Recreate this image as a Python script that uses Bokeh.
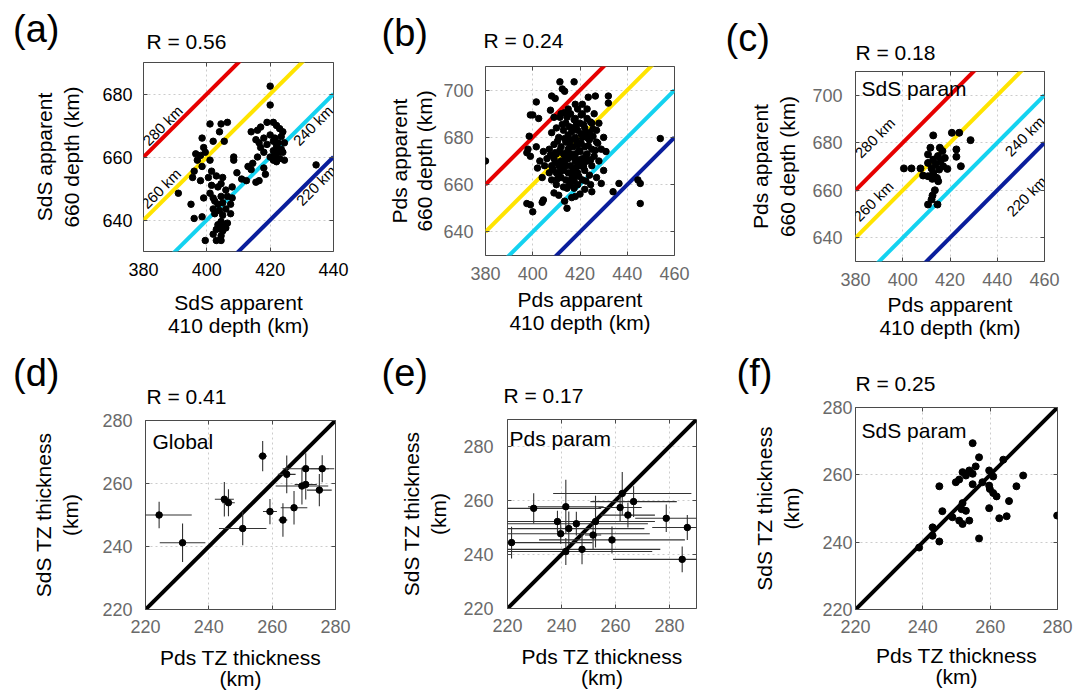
import numpy as np
from bokeh.plotting import figure
from bokeh.models import Range1d, FixedTicker, Label, LinearAxis
from bokeh.layouts import row, column
from bokeh.embed import file_html
from bokeh.resources import INLINE

FONT = "Liberation Sans"

# ---------------- data ----------------
thickness_levels = [280, 260, 240, 220]
thickness_colors = ["#e60000", "#ffe400", "#14d2f0", "#0a1e9c"]

# (a) SdS apparent depths
a_x410 = [420, 420, 434.5, 391, 395,
          419, 421, 422, 417, 416, 414, 423, 424, 420, 418,
          421.5, 423.5, 415.5, 416.5, 421, 422.5, 424.5, 419, 417, 422,
          423.5, 421, 418, 422.5, 424, 421.5, 420, 423, 424.5, 421, 422,
          416, 414.5, 413, 414, 418, 418.5, 416.5, 415.5, 409.5, 411,
          408, 408.5, 408.5, 412.5,
          401, 404.5, 406.5, 404, 402, 405.5, 398.5, 399, 396.5, 398,
          399.5, 401, 397, 401.5, 398.5, 396, 395.5, 398, 400.5, 403,
          405, 401.5, 403.5, 404.5, 406, 401, 399, 402, 404.5, 406.5,
          408, 402.5, 403.5, 405, 407.5, 402, 404, 406, 402.5, 405,
          407.5, 404.5, 403.5, 405.5, 396, 398.5, 403, 405, 406, 402,
          404.5, 403, 404.5, 399.5, 406.5, 404]
a_y660 = [682.5, 676.5, 657.5, 648.5, 645,
          671, 671, 670, 669.5, 668.5, 668, 669, 668, 667, 666,
          666, 666.5, 665.5, 664.5, 665, 664.5, 664.5, 664, 663, 663.5,
          662.5, 662, 661.5, 661.5, 661.5, 660.5, 660, 659.5, 659, 659, 658.5,
          660, 658, 657, 656, 656.5, 654.5, 652.5, 652, 655, 653,
          650.5, 660, 659, 652.5,
          670.5, 670.5, 671, 668, 665, 665, 666, 663, 661, 660.5,
          661.5, 659, 659, 655.5, 657, 655.5, 653.5, 652.5, 653.5, 654,
          653.5, 651, 650.5, 651.5, 649.5, 648.5, 647, 647, 647.5, 647.5,
          647, 646, 645, 645.5, 645, 643.5, 643, 643.5, 642, 641.5,
          642, 639.5, 638.5, 638.5, 640.5, 641, 637, 636.5, 637.5, 635.5,
          635, 633.5, 633.5, 633.5, 639, 637.5]

# (b) Pds apparent depths
b_x410 = [380, 454, 445.5, 445.5, 444.5, 436.5, 434, 429, 425, 424.5,
          432, 432, 426.5, 423.5, 417.5, 411.5, 412.5, 413.5, 408, 409.5,
          401.5, 399, 400, 402.5, 407.5, 409, 398.5, 398, 397.5, 399,
          401.5, 404.5, 407.5, 397.5, 399, 400, 404, 404.5, 409, 411,
          414.5, 413.5, 416.5,
          405, 406, 407, 407, 408, 408, 409, 409, 410, 410,
          410, 411, 411, 412, 412, 412, 413, 413, 413, 413,
          414, 414, 414, 414, 415, 415, 415, 415, 416, 416,
          416, 416, 416, 417, 417, 417, 417, 418, 418, 418,
          418, 419, 419, 419, 419, 419, 420, 420, 420, 421,
          421, 421, 421, 422, 422, 422, 423, 423, 423, 424,
          424, 424, 425, 425, 425, 426, 426, 427, 427, 428,
          428, 429, 430, 431, 430, 427, 404, 403, 402, 418,
          415, 421, 423, 412, 410, 408, 420, 418, 422,
          408.5, 409.5, 410.5, 411.5, 412.5, 413.5, 414.5, 415.5, 416.5, 417.5,
          418.5, 419.5, 420.5, 421.5, 422.5, 423.5, 424.5, 425.5, 426.5, 427.5,
          409.5, 411.5, 413.5, 415.5, 417.5, 419.5, 421.5, 423.5, 425.5, 410.5,
          412.5, 414.5, 416.5, 418.5, 420.5, 422.5, 424.5, 411.5, 413.5, 415.5,
          417.5, 419.5, 421.5, 414.5, 416.5, 418.5, 420.5, 413.5, 417.5, 422.5]
b_y660 = [670, 679.5, 652, 660.5, 662, 660.5, 657, 660.5, 657, 660,
          697.5, 694.5, 697.5, 697, 703.5, 703.5, 700.5, 699.5, 697.5, 696.5,
          695, 689.5, 689.5, 688, 691.5, 688.5, 680.5, 675, 673.5, 672,
          676, 674, 672.5, 652, 651.5, 648.5, 652.5, 653.5, 656.5, 655.5,
          650, 653, 654.5,
          668, 671, 665, 675, 668, 662, 671, 677, 665, 660,
          673, 668, 680, 663, 670, 676, 659, 666, 673, 683,
          668, 662, 678, 686, 665, 671, 675, 681, 660, 668,
          673, 679, 690, 663, 666, 676, 684, 670, 673, 680,
          688, 660, 665, 677, 683, 692, 668, 674, 686, 662,
          671, 680, 690, 666, 676, 684, 670, 688, 673, 664,
          679, 682, 668, 686, 675, 672, 690, 678, 683, 670,
          686, 675, 680, 674, 666, 663, 663, 670, 667, 694,
          692, 694, 692, 690, 684, 682, 656, 655, 658,
          666.5, 669.5, 662.5, 674.5, 667.5, 670.5, 673.5, 677.5, 664.5, 671.5,
          678.5, 670.5, 681.5, 667.5, 672.5, 676.5, 670.5, 680.5, 674.5, 677.5,
          673.5, 665.5, 679.5, 684.5, 687.5, 674.5, 685.5, 679.5, 683.5, 678.5,
          685.5, 688.5, 682.5, 685.5, 689.5, 681.5, 686.5, 688.5, 690.5, 660.5,
          661.5, 663.5, 668.5, 658.5, 662.5, 667.5, 677.5, 669.5, 658.5, 661.5]

# (c) Pds apparent depths, SdS parameters
c_x410 = [412.9, 420.8, 423.9, 428.7, 411.7, 415.7, 416.8, 422.7, 410.7, 414.9,
          417.8, 422.7, 412.9, 416.0, 410.7, 413.9, 417.1, 424.6, 400.5, 403.7,
          407.5, 412.2, 415.4, 418.9, 412.9, 408.6, 410.7, 414.5, 412.5, 415.0,
          413.6, 412.6, 412.2, 410.7, 414.7]
c_y660 = [683.1, 684.2, 684.2, 681.1, 677.9, 677.9, 676.5, 677.2, 675.1, 674.4,
          673.6, 674.1, 672.9, 672.2, 671.5, 670.8, 670.1, 670.1, 669.2, 669.2,
          669.2, 669.2, 668.7, 669.0, 667.3, 666.2, 665.9, 665.2, 664.8, 663.8,
          660.0, 657.8, 656.1, 654.0, 654.0]

# (d) Global TZ thickness
d_pds = [224.3, 231.7, 244.9, 246.2, 250.7, 257.0, 259.3, 263.4, 264.6, 266.9, 270.6, 269.4, 270.6, 275.8, 274.9]
d_sds = [250.0, 241.2, 255.0, 253.9, 245.7, 268.7, 251.1, 248.4, 262.9, 252.3, 264.7, 259.2, 259.7, 264.7, 257.9]
d_pds_err = [10.3, 7.2, 3.0, 2.0, 7.5, 1.3, 2.2, 1.4, 2.8, 4.2, 7.3, 8.3, 3.5, 3.8, 3.9]
d_sds_err = [4.2, 6.1, 5.5, 4.3, 5.3, 4.8, 4.0, 5.3, 6.0, 5.3, 4.9, 5.9, 4.8, 4.3, 5.1]

# (e) Pds param TZ thickness
e_pds = [221.5, 229.7, 238.5, 239.7, 241.6, 242.7, 241.6, 245.5, 247.6, 252.6,
         251.7, 258.7, 261.7, 262.5, 264.6, 266.7, 278.8, 286.6, 284.7]
e_sds = [244.4, 257.1, 252.2, 247.7, 257.7, 249.6, 241.1, 251.4, 241.9, 252.2,
         247.2, 245.4, 257.4, 262.6, 254.6, 259.6, 253.4, 250.0, 238.2]
e_pds_err = [30, 25, 22, 33, 14, 28, 32, 26.5, 29, 22, 3, 27, 8, 25.6, 10, 16, 11.5, 13, 25.6]
e_sds_err = [5.9, 5.6, 4.0, 3.7, 10, 6.3, 5.0, 4.4, 5.5, 9.6, 5.3, 5.0, 5.0, 8.0, 4.6, 5.7, 5.1, 4.6, 4.8]

# (f) SdS param TZ thickness
f_pds = [254.8, 256.7, 263.9, 255.7, 251.8, 252.8, 253.8, 254.8, 250.8, 249.8,
         254.8, 244.9, 259.7, 260.9, 257.7, 259.7, 259.9, 260.9, 261.9, 269.8,
         267.8, 265.6, 259.7, 251.8, 251.5, 252.8, 245.8, 248.8, 250.8, 251.8,
         253.8, 262.7, 264.9, 279.9, 242.9, 242.9, 244.9, 256.7, 238.9]
f_sds = [269.4, 265.2, 264.5, 262.5, 260.8, 259.8, 261.3, 260.3, 258.6, 257.8,
         257.2, 256.6, 261.3, 259.5, 257.8, 256.8, 255.8, 254.6, 253.6, 259.8,
         256.6, 252.2, 250.1, 251.6, 249.8, 249.3, 249.2, 247.4, 246.4, 245.4,
         246.4, 247.1, 247.7, 247.9, 244.4, 241.9, 240.2, 241.1, 238.4]

# correlation labels and panel letters
r_values = ["0.56", "0.24", "0.18", "0.41", "0.17", "0.25"]
panel_letters = ["(a)", "(b)", "(c)", "(d)", "(e)", "(f)"]


# ---------------- helpers ----------------
def mirror_axis(ticks):
    # tick marks only (no labels) on the top / right edges of the box
    ax = LinearAxis(ticker=FixedTicker(ticks=ticks))
    ax.axis_line_color = None
    ax.major_tick_in = 4
    ax.major_tick_out = 0
    ax.major_tick_line_color = "#4a4a4a"
    ax.minor_tick_line_color = None
    ax.major_label_text_font_size = "0px"
    ax.major_label_standoff = 0
    ax.major_label_overrides = {t: "" for t in ticks}
    return ax


def make_fig(xr, yr, xt, yt, fw, fh, ml, mr, mt, mb, xlab, ylab, tick_col,
             x_std=(11, 5), y_std=(10, 16)):
    p = figure(x_range=Range1d(*xr), y_range=Range1d(*yr),
               frame_width=fw, frame_height=fh,
               min_border_left=ml, min_border_right=mr,
               min_border_top=mt, min_border_bottom=mb,
               title=None, output_backend="svg", toolbar_location=None, tools="")
    p.background_fill_color = "white"
    p.border_fill_color = "white"
    p.outline_line_color = "#4a4a4a"
    p.outline_line_width = 1
    p.xaxis.ticker = FixedTicker(ticks=xt)
    p.yaxis.ticker = FixedTicker(ticks=yt)
    p.xaxis.axis_label = xlab
    p.yaxis.axis_label = ylab
    for ax in p.xaxis + p.yaxis:
        ax.axis_line_color = None
        ax.major_tick_in = 4
        ax.major_tick_out = 0
        ax.major_tick_line_color = "#4a4a4a"
        ax.minor_tick_line_color = None
        ax.major_label_text_font = FONT
        ax.major_label_text_font_size = "18px"
        ax.major_label_text_color = tick_col
        ax.axis_label_text_font = FONT
        ax.axis_label_text_font_size = "21px"
        ax.axis_label_text_font_style = "normal"
        ax.axis_label_text_color = "black"
    p.xaxis.axis_label_text_line_height = 1.0
    p.yaxis.axis_label_text_line_height = 1.2
    p.xaxis.major_label_standoff = x_std[0]
    p.xaxis.axis_label_standoff = x_std[1]
    p.yaxis.major_label_standoff = y_std[0]
    p.yaxis.axis_label_standoff = y_std[1]
    p.add_layout(mirror_axis(xt), "above")
    p.add_layout(mirror_axis(yt), "right")
    p.grid.grid_line_color = "#cccccc"
    p.grid.grid_line_dash = "2 3"
    p.grid.grid_line_width = 1
    return p


def text_label(txt, x, y, size, angle=0, align="left", baseline="alphabetic", units="screen"):
    return Label(x=x, y=y, x_units=units, y_units=units, text=txt,
                 text_font=FONT, text_font_size=size, text_color="black",
                 text_align=align, text_baseline=baseline,
                 angle=angle, angle_units="deg")


def add_text(p, txt, x, y, size, **kw):
    p.add_layout(text_label(txt, x, y, size, **kw))


def make_header(i, w, h, title_xy, letter_xy):
    # a strip above each panel holding its letter and correlation coefficient;
    # its frame is the whole strip, positions are from its bottom-left corner
    hd = figure(width=w, height=h, x_range=Range1d(0, 1), y_range=Range1d(0, 1),
                min_border=0, title=None, x_axis_location=None, y_axis_location=None,
                outline_line_color=None, output_backend="svg",
                toolbar_location=None, tools="")
    hd.grid.visible = False
    hd.background_fill_color = "white"
    hd.border_fill_color = "white"
    add_text(hd, "R = " + r_values[i], title_xy[0], title_xy[1], "21px")
    add_text(hd, panel_letters[i], letter_xy[0], letter_xy[1], "38px")
    return row(hd)


def add_thickness_lines(p, xr):
    xs = np.array(xr, dtype=float)
    for t, c in zip(thickness_levels, thickness_colors):
        p.line(xs, xs + t, line_color=c, line_width=4)


def add_line_labels(p, lx, ly):
    for t, x, y in zip(thickness_levels, lx, ly):
        add_text(p, f"{t} km", x, y, "15px", angle=45, align="center",
                 baseline="middle", units="data")


def add_one_to_one(p, xr):
    xs = np.array(xr, dtype=float)
    p.line(xs, xs, line_color="black", line_width=4)


def add_errorbars(p, x, y, xe, ye):
    x = np.array(x); y = np.array(y); xe = np.array(xe); ye = np.array(ye)
    p.segment(x0=x - xe, y0=y, x1=x + xe, y1=y, line_color="#333333", line_width=1.1)
    p.segment(x0=x, y0=y - ye, x1=x, y1=y + ye, line_color="#333333", line_width=1.1)


# ---------------- panels ----------------
lab410_S = "SdS apparent\n410 depth (km)"
lab660_S = "SdS apparent\n660 depth (km)"
lab410_P = "Pds apparent\n410 depth (km)"
lab660_P = "Pds apparent\n660 depth (km)"
labTZ_P = "Pds TZ thickness\n(km)"
labTZ_S = "SdS TZ thickness\n(km)"

W_A, W_B, W_C = 366, 350, 364

# (a)
xr_a, yr_a = (380, 440), (630, 690)
ha = make_header(0, W_A, 60, (146, 19.5), (12.5, 31.3))
pa = make_fig(xr_a, yr_a, [380, 400, 420, 440], [640, 660, 680], 190, 189,
              143, 33, 2, 95, lab410_S, lab660_S, "black", x_std=(11, 12), y_std=(11, 16))
add_thickness_lines(pa, xr_a)
pa.scatter(a_x410, a_y660, size=6.5, color="black")
add_line_labels(pa, [386.0, 385.5, 433.5, 434.5], [670.0, 650.0, 670.0, 651.0])

# (b)
xr_b, yr_b = (380, 460), (630, 710)
hb = make_header(1, W_B, 64, (117, 24.5), (15, 32))
pb = make_fig(xr_b, yr_b, [380, 400, 420, 440, 460], [640, 660, 680, 700], 189, 189,
              119, 42, 2, 91, lab410_P, lab660_P, "#6a6a6a", x_std=(11, 5), y_std=(12, 4))
pb.yaxis.axis_label_text_line_height = 1.1
add_thickness_lines(pb, xr_b)
pb.scatter(b_x410, b_y660, size=6.5, color="black")

# (c)
xr_c, yr_c = (380, 460), (630, 710)
hc = make_header(2, W_C, 69, (139, 17.5), (9, 32))
pc = make_fig(xr_c, yr_c, [380, 400, 420, 440, 460], [640, 660, 680, 700], 189, 190,
              139, 36, 2, 85, lab410_P, lab660_P, "#6a6a6a", x_std=(11, 4), y_std=(13, 10))
add_thickness_lines(pc, xr_c)
pc.scatter(c_x410, c_y660, size=7, color="black")
add_line_labels(pc, [388.2, 387.5, 451.6, 452.4], [682.1, 655.4, 682.8, 657.5])
add_text(pc, "SdS param", 6, 173.5, "21px")

# (d)
xr_d, yr_d = (220, 280), (220, 280)
hd_ = make_header(3, W_A, 63, (146, 13.5), (12.5, 37))
pd_ = make_fig(xr_d, yr_d, [220, 240, 260, 280], [220, 240, 260, 280], 190, 189,
               145, 31, 11, 74, labTZ_P, labTZ_S, "#6a6a6a", x_std=(10, 10), y_std=(13, 17))
pd_.xaxis.axis_label_text_line_height = 0.92
add_one_to_one(pd_, xr_d)
add_errorbars(pd_, d_pds, d_sds, d_pds_err, d_sds_err)
pd_.scatter(d_pds, d_sds, size=6.5, color="black")
add_text(pd_, "Global", 7, 168, "21px")

# (e)
xr_e, yr_e = (220, 290), (220, 290)
he = make_header(4, W_B, 71, (137, 22.5), (15, 45))
pe = make_fig(xr_e, yr_e, [220, 240, 260, 280], [220, 240, 260, 280], 189, 189,
              141, 20, 2, 75, labTZ_P, labTZ_S, "#6a6a6a", x_std=(10, 10), y_std=(14, 10))
pe.xaxis.axis_label_text_line_height = 0.92
add_one_to_one(pe, xr_e)
add_errorbars(pe, e_pds, e_sds, e_pds_err, e_sds_err)
pe.scatter(e_pds, e_sds, size=6.5, color="black")
add_text(pe, "Pds param", 2, 170, "21px")

# (f)
xr_f, yr_f = (220, 280), (220, 280)
hf = make_header(5, W_C, 50, (139, 13.5), (20, 24))
pf = make_fig(xr_f, yr_f, [220, 240, 260, 280], [220, 240, 260, 280], 202, 202,
              139, 23, 11, 74, labTZ_P, labTZ_S, "#6a6a6a", x_std=(10, 8), y_std=(3, 16))
pf.xaxis.axis_label_text_line_height = 0.92
add_one_to_one(pf, xr_f)
pf.scatter(f_pds, f_sds, size=7, color="black")
add_text(pf, "SdS param", 6, 179, "21px")

layout = column(
    row(column(ha, pa), column(hb, pb), column(hc, pc)),
    row(column(hd_, pd_), column(he, pe), column(hf, pf)),
)

with open("out.html", "w") as fh:
    fh.write(file_html(layout, INLINE, title="Transition zone thickness"))
